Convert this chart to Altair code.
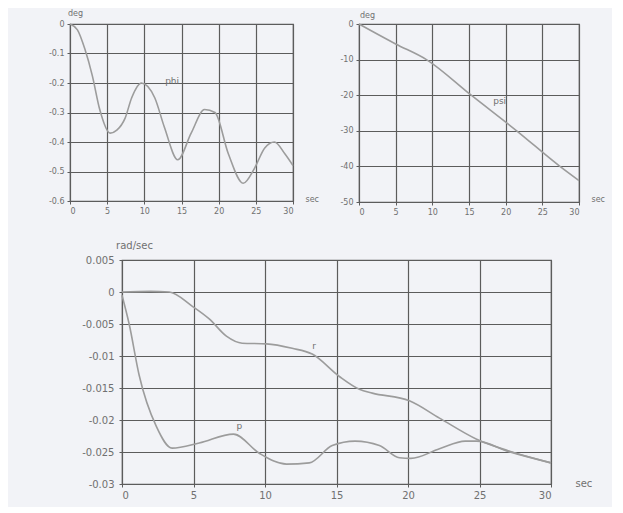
import altair as alt
import pandas as pd

# ---- data ----
phi_t = [0, 1, 2, 3, 4, 5.4, 6.3, 7.4, 8.3, 9.6, 11.4, 12.7, 14.5, 16.3, 18.1, 19.5, 21.3, 23.3, 24.8, 26.2, 27.5, 28.9, 30]
phi_v = [0, -0.02, -0.085, -0.175, -0.29, -0.37, -0.36, -0.32, -0.25, -0.2, -0.25, -0.35, -0.46, -0.37, -0.29, -0.3, -0.44, -0.54, -0.49, -0.42, -0.4, -0.44, -0.48]

psi_t = [0, 5, 9.2, 15.3, 21.5, 27.4, 30]
psi_v = [0, -5.6, -10, -20, -30, -40, -44]

r_t = [0, 2, 3.3, 4.9, 6.1, 7.3, 8.4, 10.1, 11.9, 13.3, 15.2, 16.6, 17.5, 20.1, 22.2, 24.8, 27, 30]
r_v = [0, 0.0001, 0, -0.0022, -0.0042, -0.0069, -0.008, -0.0081, -0.0088, -0.0097, -0.0132, -0.0152, -0.0158, -0.017, -0.0197, -0.023, -0.0248, -0.0267]

p_t = [0, 0.5, 1.2, 2.4, 3.5, 5.4, 7.8, 9.6, 11.5, 13.1, 14.7, 16.3, 18, 19.4, 20.2, 22.2, 24, 24.8, 27, 30]
p_v = [-0.0005, -0.005, -0.013, -0.021, -0.0244, -0.0236, -0.0222, -0.0252, -0.0269, -0.0267, -0.024, -0.0233, -0.024, -0.0259, -0.026, -0.0245, -0.0233, -0.0233, -0.0249, -0.0267]

x_ticks = [0, 5, 10, 15, 20, 25, 30]
phi_ticks = [0, -0.1, -0.2, -0.3, -0.4, -0.5, -0.6]
psi_ticks = [0, -10, -20, -30, -40, -50]
rate_ticks = [0.005, 0, -0.005, -0.01, -0.015, -0.02, -0.025, -0.03]

labels_tl = {"t": [12.8], "v": [-0.193], "s": ["phi"]}
labels_tr = {"t": [18.3], "v": [-21.5], "s": ["psi"]}
labels_b = {"t": [13.3, 8.0], "v": [-0.0084, -0.021], "s": ["r", "p"]}

FONT = "DejaVu Sans"
GRID = "#5c5c5c"
CURVE = "#9c9c9c"
TXT = "#707070"
LABEL_EXPR = "'' + datum.value"


def xaxis(tx, ty, size):
    return alt.Axis(values=x_ticks, title="sec", titleAngle=0, titleX=tx, titleY=ty,
                    titleAlign="left", titleBaseline="middle", titleFontSize=size,
                    titleFontWeight="normal", titleColor=TXT, labelFontSize=size,
                    labelColor=TXT, labelFont=FONT, titleFont=FONT, grid=True,
                    gridColor=GRID, gridWidth=1.2, domainColor=GRID, tickColor=GRID,
                    tickSize=3, labelPadding=3, labelExpr=LABEL_EXPR)


def yaxis(title, vals, tx, ty, size, pad=3):
    return alt.Axis(values=vals, title=title, titleAngle=0, titleX=tx, titleY=ty,
                    titleAlign="center", titleBaseline="middle", titleFontSize=size,
                    titleFontWeight="normal", titleColor=TXT, labelFontSize=size,
                    labelColor=TXT, labelFont=FONT, titleFont=FONT, grid=True,
                    gridColor=GRID, gridWidth=1.2, domainColor=GRID, tickColor=GRID,
                    tickSize=3, labelPadding=pad, labelExpr=LABEL_EXPR)


def panel(curves, labels, xdom, ydom, xax, yax, w, h):
    X = alt.X("t:Q", scale=alt.Scale(domain=xdom, nice=False, zero=False), axis=xax)
    Y = alt.Y("v:Q", scale=alt.Scale(domain=ydom, nice=False, zero=False), axis=yax)
    layers = []
    for (tt, vv) in curves:
        layers.append(alt.Chart(pd.DataFrame({"t": tt, "v": vv})).mark_line(
            color=CURVE, strokeWidth=1.6, interpolate="monotone").encode(x=X, y=Y))
    layers.append(alt.Chart(pd.DataFrame(labels)).mark_text(
        font=FONT, fontSize=9, color=TXT, align="left", baseline="middle").encode(
        x=X, y=Y, text="s:N"))
    return alt.layer(*layers).properties(width=w, height=h)


tl = panel([(phi_t, phi_v)], labels_tl, [0, 30], [-0.6, 0],
           xaxis(223 + 12, -2, 8), yaxis("deg", phi_ticks, 5, -11, 8), 223, 177)
tr = panel([(psi_t, psi_v)], labels_tr, [0, 30], [-50, 0],
           xaxis(220 + 12, -3, 8), yaxis("deg", psi_ticks, 8, -9, 8), 220, 178)
bt = panel([(r_t, r_v), (p_t, p_v)], labels_b, [0, 30], [-0.03, 0.005],
           xaxis(429 + 24, -1, 10),
           yaxis("rad/sec", rate_ticks, 12, -15, 10, pad=5),
           429, 224)

spacer = alt.Chart(pd.DataFrame({"a": [0]})).mark_point(opacity=0).properties(
    width=11, height=10, view=alt.ViewBackground(strokeOpacity=0))

chart = alt.vconcat(
    alt.hconcat(tl, tr, spacing=19),
    alt.hconcat(spacer, bt, spacing=0),
    spacing=22,
).properties(
    padding={"left": 39, "top": 0, "right": 6, "bottom": 6}
).configure(background="#f2f3f7", font=FONT).configure_view(stroke=GRID, strokeWidth=1.2)

chart.save("out.html", embed_options={"renderer": "svg", "actions": False})
